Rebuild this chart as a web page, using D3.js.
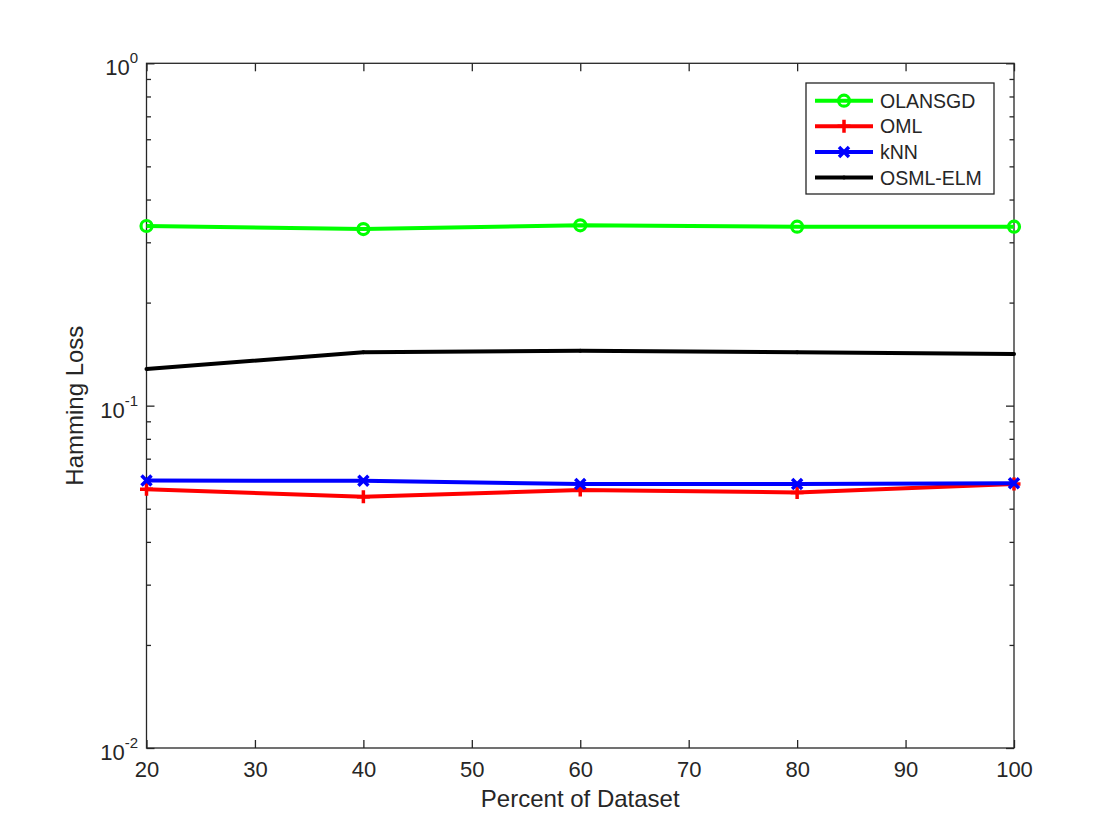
<!DOCTYPE html>
<html>
<head>
<meta charset="utf-8">
<script src="https://cdn.jsdelivr.net/npm/d3@7"></script>
<style>
  body { margin: 0; background: #fff; }
  text { font-family: "Liberation Sans", Arial, Helvetica, sans-serif; fill: #262626; }
</style>
</head>
<body>
<svg id="chart"></svg>
<script>
// data
let percents = [20, 40, 60, 80, 100];
let olansgd = [0.3348, 0.3280, 0.3363, 0.3332, 0.3332];
let oml     = [0.0570, 0.0542, 0.0567, 0.0558, 0.0590];
let knn     = [0.0604, 0.0603, 0.0590, 0.0590, 0.0593];
let osmlElm = [0.1280, 0.1432, 0.1447, 0.1432, 0.1416];
let seriesNames = ['OLANSGD', 'OML', 'kNN', 'OSML-ELM'];
let xTicks = [20, 30, 40, 50, 60, 70, 80, 90, 100];
let yMajor = [0.01, 0.1, 1];
let yExponents = ['-2', '-1', '0'];

let width = 1120;
let height = 840;
let plotLeft = 146.5, plotRight = 1014, plotTop = 63.3, plotBottom = 748;
let axisColor = '#262626';

let svg = d3.select('#chart').attr('width', width).attr('height', height);

let xScale = d3.scaleLinear().domain([20, 100]).range([plotLeft, plotRight]);
let yScale = d3.scaleLog().domain([0.01, 1]).range([plotBottom, plotTop]);

// minor log ticks 2..9 per decade
let yMinor = [];
yMajor.slice(0, -1).forEach(function(d) {
  for (let k = 2; k <= 9; k++) yMinor.push(d * k);
});

function styleAxis(g) {
  g.select('.domain').remove();
  g.selectAll('.tick line').attr('stroke', axisColor).attr('stroke-width', 1.3);
}

// bottom axis with labels
svg.append('g')
  .attr('transform', 'translate(0,' + plotBottom + ')')
  .call(d3.axisBottom(xScale).tickValues(xTicks).tickSize(-8).tickSizeOuter(0).tickPadding(13))
  .call(styleAxis)
  .selectAll('text')
  .style('font-size', '22px')
  .style('font-family', '"Liberation Sans", Arial, sans-serif')
  .attr('fill', axisColor);

// top axis, ticks only
svg.append('g')
  .attr('transform', 'translate(0,' + plotTop + ')')
  .call(d3.axisTop(xScale).tickValues(xTicks).tickSize(-8).tickSizeOuter(0).tickFormat(''))
  .call(styleAxis);

// y axes: major and minor ticks, left and right
[[d3.axisLeft, plotLeft], [d3.axisRight, plotRight]].forEach(function(a) {
  svg.append('g')
    .attr('transform', 'translate(' + a[1] + ',0)')
    .call(a[0](yScale).tickValues(yMajor).tickSize(-8).tickSizeOuter(0).tickFormat(''))
    .call(styleAxis);
  svg.append('g')
    .attr('transform', 'translate(' + a[1] + ',0)')
    .call(a[0](yScale).tickValues(yMinor).tickSize(-4.5).tickSizeOuter(0).tickFormat(''))
    .call(styleAxis);
});

// y tick labels as 10^n
let yLab = svg.append('g').selectAll('text')
  .data(yMajor)
  .enter()
  .append('text')
  .attr('x', 138)
  .attr('y', function(d) { return yScale(d) + 12; })
  .attr('text-anchor', 'end')
  .style('font-size', '22px');
yLab.append('tspan').text('10');
yLab.append('tspan')
  .attr('dy', -12)
  .style('font-size', '15px')
  .text(function(d, i) { return yExponents[i]; });

// box
svg.append('rect')
  .attr('x', plotLeft)
  .attr('y', plotTop)
  .attr('width', plotRight - plotLeft)
  .attr('height', plotBottom - plotTop)
  .attr('fill', 'none')
  .attr('stroke', axisColor)
  .attr('stroke-width', 1.3);

// axis titles
svg.append('text')
  .attr('x', (plotLeft + plotRight) / 2)
  .attr('y', 807)
  .attr('text-anchor', 'middle')
  .style('font-size', '24px')
  .text('Percent of Dataset');

svg.append('text')
  .attr('transform', 'translate(83,' + ((plotTop + plotBottom) / 2) + ') rotate(-90)')
  .attr('text-anchor', 'middle')
  .style('font-size', '24px')
  .text('Hamming Loss');

// markers
function drawMarker(g, type, color) {
  if (type === 'circle') {
    g.append('circle').attr('r', 5.5).attr('fill', 'none').attr('stroke', color).attr('stroke-width', 3.2);
  } else if (type === 'plus') {
    g.append('path').attr('d', 'M-6.5,0H6.5M0,-6.5V6.5').attr('stroke', color).attr('stroke-width', 3.5);
  } else if (type === 'cross') {
    g.append('path').attr('d', 'M-5,-5L5,5M-5,5L5,-5').attr('stroke', color).attr('stroke-width', 3.5);
  } else {
    g.append('circle').attr('r', 2).attr('fill', color);
  }
}

let series = [
  { name: seriesNames[0], values: olansgd, color: '#00ff00', marker: 'circle' },
  { name: seriesNames[1], values: oml, color: '#ff0000', marker: 'plus' },
  { name: seriesNames[2], values: knn, color: '#0000ff', marker: 'cross' },
  { name: seriesNames[3], values: osmlElm, color: '#000000', marker: 'dot' }
];

let line = d3.line()
  .x(function(d) { return xScale(d[0]); })
  .y(function(d) { return yScale(d[1]); });

series.forEach(function(s) {
  let pts = percents.map(function(p, i) { return [p, s.values[i]]; });
  svg.append('path')
    .attr('d', line(pts))
    .attr('fill', 'none')
    .attr('stroke', s.color)
    .attr('stroke-width', 4)
    .attr('stroke-linejoin', 'round');
  pts.forEach(function(d) {
    let g = svg.append('g').attr('transform', 'translate(' + xScale(d[0]) + ',' + yScale(d[1]) + ')');
    drawMarker(g, s.marker, s.color);
  });
});

// legend
let legend = svg.append('g');
legend.append('rect')
  .attr('x', 806)
  .attr('y', 83)
  .attr('width', 188)
  .attr('height', 111)
  .attr('fill', '#fff')
  .attr('stroke', axisColor)
  .attr('stroke-width', 1.3);

series.forEach(function(s, i) {
  let y = 100.7 + i * 25.6;
  legend.append('line')
    .attr('x1', 815).attr('x2', 873)
    .attr('y1', y).attr('y2', y)
    .attr('stroke', s.color)
    .attr('stroke-width', 4);
  drawMarker(legend.append('g').attr('transform', 'translate(844,' + y + ')'), s.marker, s.color);
  legend.append('text')
    .attr('x', 880)
    .attr('y', y + 7)
    .style('font-size', '19.5px')
    .text(s.name);
});
</script>
</body>
</html>
